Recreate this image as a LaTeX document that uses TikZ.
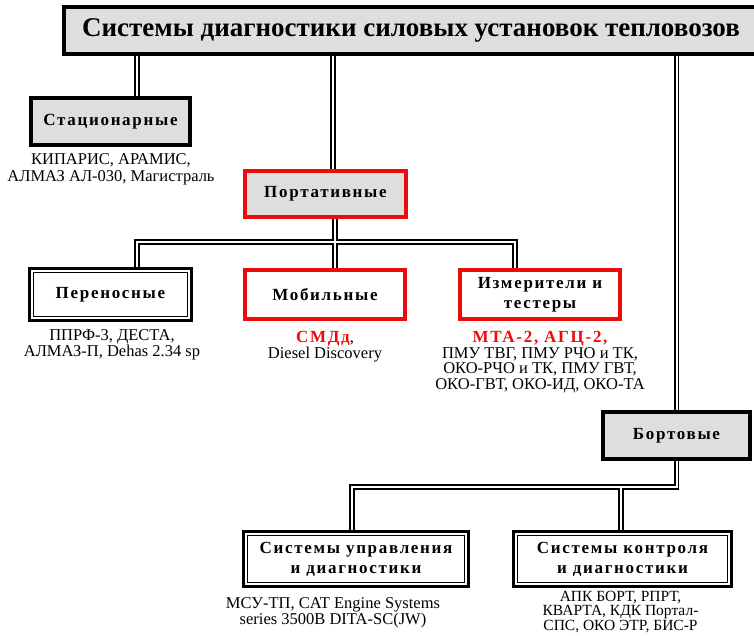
\documentclass[tikz,border=0pt]{standalone}
\usepackage{fontspec}
\setmainfont{Liberation Serif}
\newfontfamily\spaced[LetterSpace=10]{Liberation Serif}
\definecolor{boxgray}{RGB}{222,222,222}
\definecolor{boxred}{RGB}{237,12,12}
\newcommand\connpaths[1]{%
  \draw[#1] (xa |- title.south) -- (xa |- st.north);
  \draw[#1] (xp |- title.south) -- (xp |- port.north);
  \draw[#1] (bort.north |- title.south) -- (bort.north);
  \draw[#1] (xm |- port.south) -- (xm |- mob.north);
  \draw[#1] (xa |- per.north) -- (xa |- bar) -- (xi |- bar) -- (xi |- izm.north);
  \draw[#1] (bort.south) -- (bort.south |- bartwo) -- (xl |- bartwo) -- (xl |- sud.north);
  \draw[#1] (xr |- bartwo) -- (xr |- skd.north);
}
\newcommand\redbold[1]{{\color{boxred}\spaced\bfseries\fontsize{17}{15.5}\selectfont #1}}
\begin{document}
\begin{tikzpicture}[x=1pt,y=-1pt,
  boxbase/.style={rectangle, inner sep=0pt, align=center,
    font=\spaced\bfseries\fontsize{17}{20}\selectfont},
  graybox/.style={boxbase, draw=black, line width=4pt, fill=boxgray},
  redgray/.style={boxbase, draw=boxred, line width=4pt, fill=boxgray},
  redwhite/.style={boxbase, draw=boxred, line width=4pt, fill=white},
  dblbox/.style={boxbase, draw=black, line width=2.8pt, fill=white},
  innerline/.style={draw=black, line width=1.3pt},
  note/.style={align=center, inner sep=0pt, anchor=north, font=\fontsize{16.5}{15.5}\selectfont}
]
\useasboundingbox (0,0) rectangle (754,636);

% nodes
\node[graybox, minimum width=694pt, minimum height=47pt,
  font=\bfseries\fontsize{27}{30}\selectfont] (title) at (411,30.5)
  {Системы диагностики силовых установок тепловозов};
\node[graybox, minimum width=159pt, minimum height=47pt] (st) at (110.5,121.5) {Стационарные};
\node[redgray, minimum width=161pt, minimum height=46pt] (port) at (325.5,194) {Портативные};
\node[dblbox, minimum width=162pt, minimum height=52pt] (per) at (110.5,294.5) {Переносные};
\node[redwhite, minimum width=160pt, minimum height=49pt] (mob) at (325,294.5) {Мобильные};
\node[redwhite, minimum width=160pt, minimum height=49pt] (izm) at (540,294.5) {Измерители и\\тестеры};
\node[graybox, minimum width=147pt, minimum height=47pt] (bort) at (676.5,435.5) {Бортовые};
\node[dblbox, minimum width=225pt, minimum height=55pt] (sud) at (356,559) {Системы управления\\и диагностики};
\node[dblbox, minimum width=218pt, minimum height=55pt] (skd) at (622.5,559) {Системы контроля\\и диагностики};

% inner lines of double-framed boxes
\foreach \b in {per,sud,skd}{
  \draw[innerline] ([shift={(5.6pt,-5.6pt)}]\b.north west) rectangle ([shift={(-5.6pt,5.6pt)}]\b.south east);
}

% notes
\node[note, font=\fontsize{16.5}{17}\selectfont] (stn) at (111,153) {КИПАРИС, АРАМИС,\\АЛМАЗ АЛ-030, Магистраль};
\node[note, font=\fontsize{16.5}{16}\selectfont] (pern) at (112,329) {ППРФ-3, ДЕСТА,\\АЛМАЗ-П, Dehas 2.34 sp};
\node[note] (mobn) at (325,331.5) {\redbold{СМДд},\\Diesel Discovery};
\node[note] (izmn) at (540,331.5) {\redbold{МТА-2, АГЦ-2,}\\ПМУ ТВГ, ПМУ РЧО и ТК,\\ОКО-РЧО и ТК, ПМУ ГВТ,\\ОКО-ГВТ, ОКО-ИД, ОКО-ТА};
\node[note, font=\fontsize{16.5}{15}\selectfont] (sudn) at (333,597.5) {МСУ-ТП, CAT Engine Systems\\series 3500B DITA-SC(JW)};
\node[note, font=\fontsize{15.5}{14.5}\selectfont] (skdn) at (620.5,591) {АПК БОРТ, РПРТ,\\КВАРТА, КДК Портал-\\СПС, ОКО ЭТР, БИС-Р};

% connector coordinates
\coordinate (xa) at (137,0);
\coordinate (xp) at (333,0);
\coordinate (xm) at (335,0);
\coordinate (xi) at (515,0);
\coordinate (bar) at (0,242);
\coordinate (bartwo) at (0,487);
\coordinate (xl) at (352,0);
\coordinate (xr) at (621,0);

% double connectors: black pass, then white core
\connpaths{line width=5.6pt, black}
\connpaths{line width=2pt, white}
\end{tikzpicture}
\end{document}
